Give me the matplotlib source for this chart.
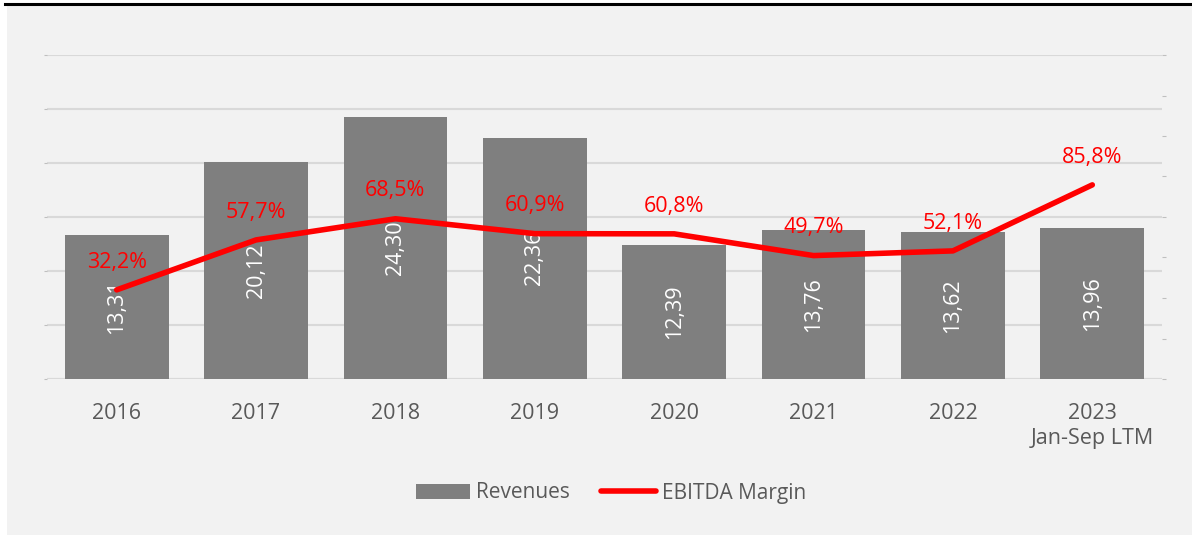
import matplotlib
matplotlib.use("Agg")
import matplotlib.pyplot as plt
from matplotlib.patches import Rectangle
from matplotlib.lines import Line2D
import numpy as np

plt.rcParams['font.family'] = ['Open Sans', 'DejaVu Sans']

categories = ["2016", "2017", "2018", "2019", "2020", "2021", "2022", "2023\nJan-Sep LTM"]
revenues = [13.31, 20.12, 24.30, 22.36, 12.39, 13.76, 13.62, 13.96]
margin = [32.2, 57.7, 68.5, 60.9, 60.8, 49.7, 52.1, 85.8]
rev_labels = ["13,31", "20,12", "24,30", "22,36", "12,39", "13,76", "13,62", "13,96"]
margin_labels = ["32,2%", "57,7%", "68,5%", "60,9%", "60,8%", "49,7%", "52,1%", "85,8%"]

W, H = 1192, 535
fig = plt.figure(figsize=(W / 100, H / 100), dpi=100)
fig.patch.set_facecolor("#f2f2f2")

# white left strip and top black rule
fig.add_artist(Rectangle((0, 0), 7 / W, 1, transform=fig.transFigure, facecolor="white", edgecolor="none"))
fig.add_artist(Rectangle((0, 1 - 5 / H), 1, 5 / H, transform=fig.transFigure, facecolor="white", edgecolor="none"))
fig.add_artist(Line2D([5 / W, 1], [1 - 4 / H, 1 - 4 / H], transform=fig.transFigure, color="black", lw=2.2))

left, right, bottom, top = 47 / W, 1162 / W, 1 - 379 / H, 1 - 55 / H
ax = fig.add_axes([left, bottom, right - left, top - bottom])
ax.set_facecolor("#f2f2f2")
x = np.arange(len(categories))

ax.bar(x, revenues, width=0.745, color="#7f7f7f", zorder=2)
ax.set_xlim(-0.5, len(categories) - 0.5)
ax.set_ylim(0, 30)
ax.set_yticks(np.arange(0, 31, 5))
ax.yaxis.grid(True, color="#d9d9d9", lw=1.5, zorder=0)
ax.set_axisbelow(True)
ax.tick_params(axis="y", length=2, width=0.8, color="#bfbfbf", labelsize=1, labelcolor="#f2f2f2", pad=1)
ax.tick_params(axis="x", length=0, labelsize=15.5, labelcolor="#595959", pad=17)
ax.set_xticks(x)
ax.set_xticklabels(categories, linespacing=1.3)
for s in ax.spines.values():
    s.set_visible(False)
ax.axhline(0, color="#d9d9d9", lw=1.5, zorder=1)

for xi, v, lab in zip(x, revenues, rev_labels):
    ax.text(xi, v / 2, lab, rotation=90, ha="center", va="center", color="white", fontsize=15.5, zorder=4)

ax2 = ax.twinx()
lo, hi = -13.3, 152.1
ax2.set_ylim(lo, hi)
ax2.plot(x, margin, color="#ff0000", lw=4, solid_capstyle="round", zorder=5)
ax2.set_yticks(np.linspace(lo, hi, 9))
ax2.tick_params(axis="y", length=3, width=0.8, color="#bfbfbf", labelsize=1, labelcolor="#f2f2f2", pad=3)
for s in ax2.spines.values():
    s.set_visible(False)
for xi, v, lab in zip(x, margin, margin_labels):
    ax2.annotate(lab, (xi, v), xytext=(0, 20), textcoords="offset points", ha="center", va="center",
                 color="#ff0000", fontsize=15.5, zorder=6)

handles = [Rectangle((0, 0), 1, 1, facecolor="#7f7f7f"),
           Line2D([0], [0], color="#ff0000", lw=4, solid_capstyle="round")]
leg = fig.legend(handles, ["Revenues", "EBITDA Margin"], loc="center", bbox_to_anchor=(611 / W, 1 - 493 / H),
                 ncol=2, frameon=False, fontsize=15, labelcolor="#595959", handlelength=2.6, handleheight=0.7,
                 handletextpad=0.3, columnspacing=1.5)

fig.savefig("out.png", dpi=100, facecolor=fig.get_facecolor())
